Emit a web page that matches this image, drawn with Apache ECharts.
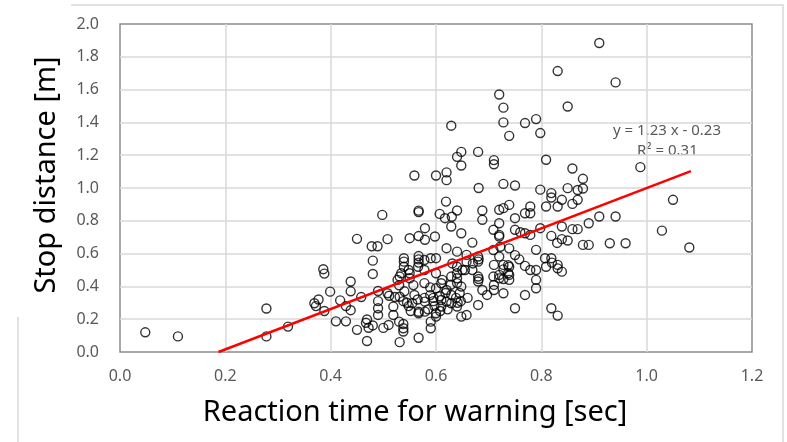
<!DOCTYPE html>
<html>
<head>
<meta charset="utf-8">
<script src="https://cdn.jsdelivr.net/npm/echarts@6/dist/echarts.min.js"></script>
<style>
  html, body { margin: 0; padding: 0; background: #fff; }
  #chartBox { width: 787px; height: 442px; }
</style>
</head>
<body>
<div id="chartBox"></div>
<script>
// reaction time [sec], stop distance [m]
var samples = [
  [0.048, 0.12], [0.11, 0.095],
  [0.278, 0.265], [0.278, 0.095], [0.319, 0.155],
  [0.369, 0.297], [0.372, 0.28], [0.377, 0.32],
  [0.386, 0.505], [0.388, 0.478], [0.388, 0.25],
  [0.399, 0.368], [0.41, 0.187], [0.418, 0.315], [0.429, 0.187], [0.429, 0.28],
  [0.438, 0.43], [0.438, 0.37], [0.438, 0.255],
  [0.45, 0.69], [0.45, 0.135], [0.458, 0.335],
  [0.469, 0.198], [0.467, 0.178], [0.469, 0.067], [0.472, 0.148],
  [0.478, 0.645], [0.48, 0.557], [0.48, 0.476], [0.48, 0.162],
  [0.489, 0.645], [0.49, 0.372], [0.49, 0.31], [0.49, 0.267], [0.49, 0.226],
  [0.498, 0.836], [0.5, 0.147],
  [0.508, 0.688], [0.508, 0.358], [0.511, 0.343], [0.51, 0.165],
  [0.519, 0.277], [0.519, 0.226], [0.522, 0.335],
  [0.527, 0.44], [0.53, 0.407], [0.531, 0.46], [0.534, 0.48], [0.53, 0.185], [0.531, 0.06], [0.531, 0.337],
  [0.538, 0.171], [0.538, 0.145], [0.538, 0.125], [0.538, 0.31], [0.54, 0.37],
  [0.539, 0.572], [0.539, 0.551], [0.539, 0.52],
  [0.545, 0.3], [0.548, 0.5], [0.55, 0.45], [0.548, 0.28],
  [0.55, 0.694], [0.55, 0.48],
  [0.557, 0.408], [0.559, 0.348], [0.559, 1.076], [0.555, 0.297], [0.552, 0.25],
  [0.567, 0.862], [0.567, 0.853], [0.567, 0.707], [0.567, 0.585], [0.567, 0.565], [0.567, 0.545],
  [0.566, 0.52], [0.567, 0.245], [0.567, 0.236], [0.567, 0.087], [0.565, 0.32],
  [0.579, 0.755], [0.579, 0.684], [0.578, 0.561], [0.578, 0.5], [0.578, 0.42], [0.578, 0.33],
  [0.579, 0.307], [0.579, 0.246],
  [0.59, 0.572], [0.589, 0.394], [0.589, 0.347], [0.59, 0.185], [0.59, 0.145], [0.585, 0.26],
  [0.598, 0.704], [0.6, 0.572], [0.6, 1.076], [0.6, 0.48], [0.6, 0.389], [0.6, 0.236], [0.6, 0.216],
  [0.595, 0.31], [0.597, 0.28], [0.595, 0.33],
  [0.607, 0.842], [0.61, 0.419], [0.61, 0.317], [0.61, 0.277], [0.607, 0.34], [0.612, 0.44], [0.608, 0.25],
  [0.617, 0.816], [0.619, 0.917], [0.62, 1.095], [0.62, 1.048], [0.62, 0.633], [0.62, 0.378],
  [0.62, 0.307], [0.622, 0.26], [0.618, 0.36],
  [0.629, 1.38], [0.63, 0.825], [0.629, 0.765], [0.631, 0.54], [0.629, 0.46], [0.629, 0.348],
  [0.629, 0.297], [0.628, 0.41],
  [0.64, 1.19], [0.64, 0.863], [0.64, 0.612], [0.64, 0.52], [0.64, 0.48], [0.64, 0.45], [0.64, 0.42],
  [0.64, 0.277], [0.638, 0.33], [0.641, 0.3],
  [0.648, 1.22], [0.648, 1.137], [0.648, 0.724], [0.648, 0.399], [0.648, 0.216], [0.65, 0.5],
  [0.645, 0.36], [0.647, 0.31],
  [0.658, 0.592], [0.658, 0.551], [0.658, 0.226], [0.66, 0.33], [0.655, 0.5],
  [0.669, 0.667], [0.669, 0.5], [0.67, 0.54],
  [0.68, 1.22], [0.681, 1.0], [0.68, 0.582], [0.681, 0.565], [0.68, 0.551], [0.68, 0.46], [0.681, 0.445],
  [0.68, 0.43], [0.68, 0.287],
  [0.688, 0.863], [0.688, 0.806], [0.688, 0.378], [0.697, 0.348],
  [0.71, 1.17], [0.71, 1.145], [0.709, 0.745], [0.709, 0.622], [0.71, 0.531], [0.709, 0.46], [0.71, 0.409], [0.71, 0.378],
  [0.72, 1.57], [0.72, 0.867], [0.72, 0.785], [0.72, 0.714], [0.72, 0.704], [0.72, 0.582], [0.72, 0.47],
  [0.72, 0.449], [0.722, 0.642],
  [0.728, 1.49], [0.728, 1.40], [0.728, 1.025], [0.728, 0.877], [0.728, 0.531], [0.728, 0.504], [0.728, 0.445], [0.728, 0.358],
  [0.739, 1.318], [0.739, 0.897], [0.739, 0.632], [0.737, 0.53], [0.739, 0.52], [0.739, 0.47], [0.739, 0.44], [0.737, 0.48],
  [0.75, 1.015], [0.75, 0.816], [0.75, 0.745], [0.75, 0.591], [0.75, 0.267],
  [0.758, 0.565], [0.76, 0.73], [0.769, 1.396], [0.769, 0.846], [0.769, 0.724], [0.769, 0.525], [0.769, 0.348],
  [0.779, 0.887], [0.779, 0.846], [0.779, 0.714], [0.779, 0.5],
  [0.79, 1.42], [0.79, 0.623], [0.79, 0.5], [0.79, 0.44], [0.79, 0.389],
  [0.798, 1.335], [0.798, 0.99], [0.798, 0.755],
  [0.809, 1.172], [0.809, 0.887], [0.807, 0.572], [0.809, 0.52],
  [0.819, 0.969], [0.819, 0.942], [0.819, 0.708], [0.819, 0.572], [0.82, 0.545], [0.819, 0.267],
  [0.831, 1.713], [0.831, 0.887], [0.83, 0.665], [0.831, 0.531], [0.831, 0.51], [0.831, 0.222],
  [0.839, 0.928], [0.839, 0.765], [0.839, 0.688], [0.839, 0.49],
  [0.85, 1.497], [0.85, 0.999], [0.85, 0.68],
  [0.859, 1.119], [0.859, 0.903], [0.859, 0.749],
  [0.869, 0.988], [0.869, 0.928], [0.869, 0.749],
  [0.879, 1.056], [0.879, 0.997], [0.879, 0.653],
  [0.89, 0.785], [0.89, 0.653],
  [0.91, 1.884], [0.91, 0.826], [0.93, 0.663], [0.941, 1.644], [0.941, 0.826], [0.96, 0.663],
  [0.988, 1.127], [1.029, 0.74], [1.05, 0.928], [1.081, 0.637]
]

// linear trend line (y = 1.23 x - 0.23), end points
var trendX = [0.187, 1.084]
var trendY = [0, 1.103]
var trendText = ['y = 1.23 x - 0.23', 'R\u00b2 = 0.31']

var xTitle = 'Reaction time for warning [sec]'
var yTitle = 'Stop distance [m]'

var myChart = echarts.init(document.getElementById('chartBox'))
myChart.setOption({
  animation: false,
  textStyle: { fontFamily: 'Noto Sans' },
  grid: {
    left: 120,
    right: 35,
    top: 24,
    bottom: 90,
    outerBoundsMode: 'none',
    show: true,
    borderColor: '#8c8c8c',
    borderWidth: 1.5
  },
  xAxis: {
    type: 'value',
    min: 0,
    max: 1.2,
    interval: 0.2,
    name: xTitle,
    nameLocation: 'middle',
    nameGap: 46,
    nameTextStyle: { fontSize: 29, color: '#000', padding: [0, 42, 0, 0] },
    axisLine: { show: false },
    axisTick: { show: false },
    axisLabel: {
      margin: 16,
      fontSize: 16,
      color: '#595959',
      formatter: function (v) { return v.toFixed(1) }
    },
    splitLine: {
      showMinLine: false,
      showMaxLine: false,
      lineStyle: { color: '#d9d9d9', width: 1.5 }
    }
  },
  yAxis: {
    type: 'value',
    min: 0,
    max: 2,
    interval: 0.2,
    name: yTitle,
    nameLocation: 'middle',
    nameGap: 59,
    nameTextStyle: { fontSize: 29, color: '#000', padding: [0, 0, 0, 26] },
    axisLine: { show: false },
    axisTick: { show: false },
    axisLabel: {
      margin: 21,
      fontSize: 16,
      color: '#595959',
      formatter: function (v) { return v.toFixed(1) }
    },
    splitLine: {
      showMinLine: false,
      showMaxLine: false,
      lineStyle: { color: '#d9d9d9', width: 1.5 }
    }
  },
  series: [
    {
      type: 'scatter',
      data: samples,
      symbol: 'circle',
      symbolSize: 9,
      itemStyle: {
        color: 'rgba(0,0,0,0)',
        borderColor: '#000',
        borderWidth: 1.4
      },
      emphasis: { disabled: true },
      z: 2
    },
    {
      type: 'line',
      data: trendX.map(function (x, i) { return [x, trendY[i]] }),
      symbol: 'none',
      lineStyle: { color: '#ff0000', width: 2.5 },
      z: 3
    }
  ],
  graphic: [
    {
      type: 'polyline',
      shape: { points: [[71, 5], [783, 5], [783, 442]] },
      style: { stroke: '#d9d9d9', lineWidth: 1.5, fill: null }
    },
    {
      type: 'line',
      shape: { x1: 18, y1: 317, x2: 18, y2: 442 },
      style: { stroke: '#d9d9d9', lineWidth: 1.5 }
    },
    {
      type: 'text',
      left: 613,
      top: 123,
      style: { text: trendText[0], font: '15px "Noto Sans"', fill: '#595959' }
    },
    {
      type: 'text',
      left: 637,
      top: 143,
      style: { text: trendText[1], font: '15px "Noto Sans"', fill: '#595959' }
    }
  ]
})
</script>
</body>
</html>
